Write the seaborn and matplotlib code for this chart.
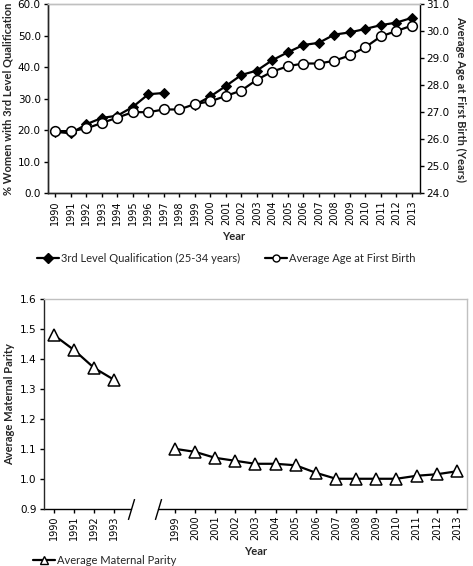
import numpy as np
import pandas as pd
import matplotlib
matplotlib.use('Agg')
import matplotlib.pyplot as plt
import seaborn as sns
from matplotlib.lines import Line2D
from matplotlib import transforms

# dados
anos_topo = ['1990', '1991', '1992', '1993', '1994', '1995', '1996', '1997', '1998', '1999',
             '2000', '2001', '2002', '2003', '2004', '2005', '2006', '2007', '2008', '2009',
             '2010', '2011', '2012', '2013']
# 3rd level qualification (25-34), lacuna em 1998
qualif_90_97 = [19.5, 19.0, 21.9, 23.9, 24.6, 27.4, 31.4, 31.8]
qualif_99_13 = [28.0, 30.7, 34.0, 37.5, 38.9, 42.2, 44.7, 47.0, 47.7, 50.3, 51.0, 52.1, 53.3, 54.1, 55.6]
idade_primeiro = [26.3, 26.3, 26.4, 26.6, 26.8, 27.0, 27.0, 27.1, 27.1, 27.3, 27.4, 27.6,
                  27.8, 28.2, 28.5, 28.7, 28.8, 28.8, 28.9, 29.1, 29.4, 29.8, 30.0, 30.2]

anos_baixo = ['1990', '1991', '1992', '1993', '', '', '1999', '2000', '2001', '2002', '2003',
              '2004', '2005', '2006', '2007', '2008', '2009', '2010', '2011', '2012', '2013']
paridade_90_93 = [1.48, 1.43, 1.37, 1.33]
paridade_99_13 = [1.10, 1.09, 1.07, 1.06, 1.05, 1.05, 1.045, 1.02, 1.00, 1.00, 1.00, 1.00, 1.01, 1.015, 1.025]

sns.set_style('ticks')
plt.rcParams['font.family'] = ['Lato', 'DejaVu Sans']
plt.rcParams['axes.linewidth'] = 1.0

fig = plt.figure(figsize=(4.73, 5.66), dpi=100)
ax1 = fig.add_axes([0.1008, 0.6585, 0.7861, 0.3344])
ax2 = ax1.twinx()
ax3 = fig.add_axes([0.0924, 0.1012, 0.8949, 0.3705])

x_topo = np.arange(len(anos_topo))
df_q1 = pd.DataFrame({'x': x_topo[:8], 'v': qualif_90_97})
df_q2 = pd.DataFrame({'x': x_topo[9:], 'v': qualif_99_13})
df_idade = pd.DataFrame({'x': x_topo, 'v': idade_primeiro})

estilo_q = dict(color='black', lw=1.6, marker='D', markersize=5, markerfacecolor='black',
                markeredgecolor='black')
sns.lineplot(data=df_q1, x='x', y='v', ax=ax1, **estilo_q)
sns.lineplot(data=df_q2, x='x', y='v', ax=ax1, **estilo_q)
sns.lineplot(data=df_idade, x='x', y='v', ax=ax2, color='black', lw=1.6, marker='o',
             markersize=7, markerfacecolor='white', markeredgecolor='black', markeredgewidth=1.1)

ax1.set_xlim(-0.5, len(anos_topo) - 0.5)
ax1.set_ylim(0, 60)
ax2.set_ylim(24, 31)
ax1.set_yticks(np.arange(0, 61, 10))
ax2.set_yticks(np.arange(24, 31.1, 1))
ax1.set_yticklabels([f'{v:.1f}' for v in np.arange(0, 61, 10)], family='DejaVu Sans', fontsize=7.5)
ax2.set_yticklabels([f'{v:.1f}' for v in np.arange(24, 31.1, 1)], family='DejaVu Sans', fontsize=7.5)
ax1.set_xticks(x_topo)
ax1.set_xticklabels(anos_topo, rotation=90, family=['Liberation Sans Narrow', 'DejaVu Sans'], fontsize=7)
ax1.set_xlabel('Year', fontweight='bold', fontsize=8, labelpad=4)
ax1.set_ylabel('% Women with 3rd Level Qualification', fontweight='bold', fontsize=8, labelpad=3)
ax2.set_ylabel('Average Age at First Birth (Years)', fontweight='bold', fontsize=8,
               rotation=-90, labelpad=12)
ax2.set_xlabel('')
for a in (ax1, ax2):
    a.tick_params(direction='out', length=3, width=1, pad=2, colors='black')
    a.grid(False)
ax1.spines['top'].set_color('#c0c0c0')
ax2.spines['top'].set_color('#c0c0c0')
ax2.spines['right'].set_color('black')
ax1.spines['right'].set_visible(False)

leg_topo = [
    Line2D([], [], **estilo_q),
    Line2D([], [], color='black', lw=1.6, marker='o', markersize=5, markerfacecolor='white',
           markeredgecolor='black'),
]
ax1.legend(leg_topo, ['3rd Level Qualification (25-34 years)', 'Average Age at First Birth'],
           loc='center', bbox_to_anchor=(0.48, -0.345), ncol=2, frameon=False, fontsize=8,
           handlelength=2.0, handletextpad=0.2, columnspacing=2.2)

# gráfico de baixo
x_baixo = np.arange(len(anos_baixo))
df_p1 = pd.DataFrame({'x': x_baixo[:4], 'v': paridade_90_93})
df_p2 = pd.DataFrame({'x': x_baixo[6:], 'v': paridade_99_13})
estilo_p = dict(color='black', lw=1.6, marker='^', markersize=9, markerfacecolor='white',
                markeredgecolor='black', markeredgewidth=1.1)
sns.lineplot(data=df_p1, x='x', y='v', ax=ax3, **estilo_p)
sns.lineplot(data=df_p2, x='x', y='v', ax=ax3, **estilo_p)

ax3.set_xlim(-0.5, len(anos_baixo) - 0.5)
ax3.set_ylim(0.9, 1.6)
ax3.set_yticks(np.arange(0.9, 1.61, 0.1))
ax3.set_yticklabels([f'{v:.1f}' for v in np.arange(0.9, 1.61, 0.1)], family='DejaVu Sans', fontsize=7.5)
ticks_b = [i for i, t in enumerate(anos_baixo) if t]
ax3.set_xticks(ticks_b)
ax3.set_xticklabels([anos_baixo[i] for i in ticks_b], rotation=90,
                    family=['Liberation Sans Narrow', 'DejaVu Sans'], fontsize=7)
ax3.set_xlabel('Year', fontweight='bold', fontsize=8, labelpad=4)
ax3.set_ylabel('Average Maternal Parity', fontweight='bold', fontsize=8, labelpad=4)
ax3.tick_params(direction='out', length=3, width=1, pad=2, colors='black')
ax3.grid(False)
ax3.spines['top'].set_color('#c0c0c0')
ax3.spines['right'].set_color('#c0c0c0')
ax3.spines['bottom'].set_visible(False)

# eixo x quebrado com as barras "/ /"
trans = transforms.blended_transform_factory(ax3.transData, ax3.transAxes)
ax3.plot([-0.5, 3.85], [0, 0], color='black', lw=1, transform=trans, clip_on=False)
ax3.plot([5.15, len(anos_baixo) - 0.5], [0, 0], color='black', lw=1, transform=trans, clip_on=False)
ax3.plot([3.85, 5.15], [0, 0], linestyle='none', marker=[(-0.3, -1), (0.3, 1)], markersize=15,
         color='black', mew=1, transform=trans, clip_on=False)

ax3.legend([Line2D([], [], color='black', lw=1.6, marker='^', markersize=6,
                   markerfacecolor='white', markeredgecolor='black')],
           ['Average Maternal Parity'], loc='center left', bbox_to_anchor=(-0.05, -0.245),
           frameon=False, fontsize=8, handlelength=2.0, handletextpad=0.2)

fig.savefig('out.png', dpi=100)
